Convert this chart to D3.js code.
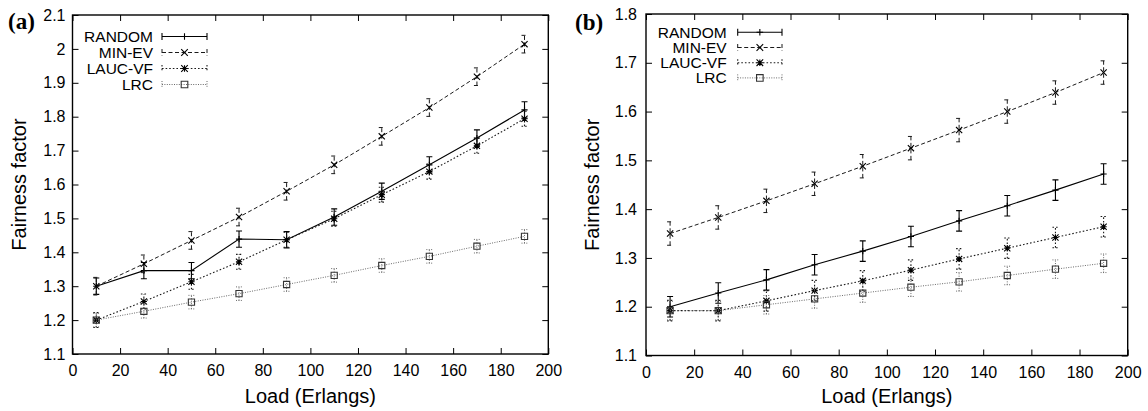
<!DOCTYPE html>
<html>
<head>
<meta charset="utf-8">
<script src="https://cdn.jsdelivr.net/npm/d3@7"></script>
<style>
  body { margin: 0; background: #fff; }
  text { font-family: "Liberation Sans", Arial, sans-serif; fill: #000; }
</style>
</head>
<body>
<script>
const width = 1148
const height = 411

// shared
const loads = [10, 30, 50, 70, 90, 110, 130, 150, 170, 190];
const xTicks = [0, 20, 40, 60, 80, 100, 120, 140, 160, 180, 200];
const seriesNames = ["RANDOM", "MIN-EV", "LAUC-VF", "LRC"];

// panel (a)
const aRandom = [1.300, 1.346, 1.346, 1.439, 1.437, 1.504, 1.580, 1.658, 1.737, 1.820];
const aMinEv  = [1.300, 1.366, 1.435, 1.504, 1.580, 1.658, 1.742, 1.827, 1.918, 2.014];
const aLaucVf = [1.200, 1.255, 1.313, 1.372, 1.437, 1.499, 1.570, 1.638, 1.714, 1.794];
const aLrc    = [1.200, 1.226, 1.253, 1.278, 1.305, 1.332, 1.361, 1.388, 1.418, 1.447];
const aErr    = [0.024, 0.026, 0.022, 0.020];
const aYTicks = [1.1, 1.2, 1.3, 1.4, 1.5, 1.6, 1.7, 1.8, 1.9, 2, 2.1];

// panel (b)
const bRandom = [1.200, 1.228, 1.255, 1.286, 1.314, 1.344, 1.376, 1.407, 1.439, 1.472];
const bMinEv  = [1.350, 1.383, 1.417, 1.452, 1.488, 1.525, 1.562, 1.600, 1.639, 1.680];
const bLaucVf = [1.192, 1.192, 1.212, 1.233, 1.253, 1.275, 1.298, 1.320, 1.342, 1.364];
const bLrc    = [1.192, 1.192, 1.204, 1.216, 1.228, 1.240, 1.251, 1.264, 1.277, 1.289];
const bErr    = [0.021, 0.024, 0.021, 0.019];
const bYTicks = [1.1, 1.2, 1.3, 1.4, 1.5, 1.6, 1.7, 1.8];

// line style + point type per series (gnuplot look)
const styles = [
    { stroke: "#000", dash: null,      width: 1.1, marker: "plus" },
    { stroke: "#1a1a1a", dash: "4,2.5", width: 1,   marker: "cross" },
    { stroke: "#1a1a1a", dash: "1.6,2", width: 1.1, marker: "star" },
    { stroke: "#6a6a6a", dash: "1,1.4", width: 1,   marker: "square" }
];

const svg = d3.select("body").append("svg")
    .attr("width", width)
    .attr("height", height);

function markerPath(type, s) {
    if (type == "plus") return `M${-s},0H${s}M0,${-s}V${s}`;
    if (type == "cross") return `M${-s},${-s}L${s},${s}M${-s},${s}L${s},${-s}`;
    if (type == "star") return `M${-s},0H${s}M0,${-s}V${s}M${-s},${-s}L${s},${s}M${-s},${s}L${s},${-s}`;
    return `M${-s},${-s}H${s}V${s}H${-s}Z`;
}

function drawPanel(p) {
    const g = svg.append("g");
    const x = d3.scaleLinear().domain([0, 200]).range([p.left, p.right]);
    const y = d3.scaleLinear().domain([p.yTicks[0], p.yTicks[p.yTicks.length - 1]]).range([p.bottom, p.top]);

    // axes, ticks pointing inward on all four sides
    const axes = [
        [d3.axisBottom(x).tickValues(xTicks).tickFormat(d3.format("d")).tickPadding(11), `translate(0,${p.bottom})`],
        [d3.axisTop(x).tickValues(xTicks).tickFormat(""), `translate(0,${p.top})`],
        [d3.axisLeft(y).tickValues(p.yTicks).tickFormat(d => d3.format("")(d)).tickPadding(p.yPad), `translate(${p.left},0)`],
        [d3.axisRight(y).tickValues(p.yTicks).tickFormat(""), `translate(${p.right},0)`]
    ];
    axes.forEach(([ax, tr]) => {
        const a = g.append("g").attr("transform", tr)
            .call(ax.tickSizeInner(-6).tickSizeOuter(0));
        a.select(".domain").remove();
        a.selectAll("line").attr("stroke", "#000").attr("stroke-width", 1);
        a.selectAll("text").style("font-size", "16px").attr("fill", "#000");
    });

    g.append("rect")
        .attr("x", p.left).attr("y", p.top)
        .attr("width", p.right - p.left).attr("height", p.bottom - p.top)
        .attr("fill", "none").attr("stroke", "#000").attr("stroke-width", 1.4);

    const line = d3.line().x((d, i) => x(loads[i])).y(d => y(d));

    p.series.forEach((vals, k) => {
        const st = styles[k];
        const sg = g.append("g")
            .attr("stroke", st.stroke)
            .attr("stroke-width", st.width)
            .attr("stroke-dasharray", st.dash)
            .attr("fill", "none");

        sg.append("path").attr("d", line(vals));

        // error bars
        const e = p.err[k];
        sg.selectAll(".eb").data(vals).enter().append("path")
            .attr("d", (d, i) => {
                const cx = x(loads[i]), y0 = y(d - e), y1 = y(d + e);
                return `M${cx},${y0}V${y1}M${cx - 3},${y0}H${cx + 3}M${cx - 3},${y1}H${cx + 3}`;
            });

        // point markers
        g.selectAll(null).data(vals).enter().append("path")
            .attr("transform", (d, i) => `translate(${x(loads[i])},${y(d)})`)
            .attr("d", markerPath(st.marker, 3.1))
            .attr("fill", "none")
            .attr("stroke", k == 3 ? "#333" : "#000")
            .attr("stroke-width", 1.1);
    });

    // legend
    seriesNames.forEach((name, k) => {
        const st = styles[k];
        const ly = p.legY + k * p.legStep;
        g.append("text")
            .attr("x", p.legText).attr("y", ly + 5.5)
            .attr("text-anchor", "end")
            .style("font-size", "15.5px")
            .text(name);
        g.append("path")
            .attr("d", `M${p.legX0},${ly}H${p.legX1}M${p.legX0},${ly - 3.5}V${ly + 3.5}M${p.legX1},${ly - 3.5}V${ly + 3.5}`)
            .attr("stroke", st.stroke)
            .attr("stroke-width", st.width)
            .attr("stroke-dasharray", st.dash)
            .attr("fill", "none");
        g.append("path")
            .attr("transform", `translate(${(p.legX0 + p.legX1) / 2},${ly})`)
            .attr("d", markerPath(st.marker, 3.3))
            .attr("fill", "none")
            .attr("stroke", k == 3 ? "#333" : "#000")
            .attr("stroke-width", 1.1);
    });

    // axis titles
    g.append("text")
        .attr("transform", `translate(${p.yTitleX},${(p.top + p.bottom) / 2}) rotate(-90)`)
        .attr("text-anchor", "middle")
        .style("font-size", "20px")
        .text("Fairness factor");
    g.append("text")
        .attr("x", (p.left + p.right) / 2).attr("y", 403)
        .attr("text-anchor", "middle")
        .style("font-size", "20px")
        .text("Load (Erlangs)");

    // panel letter
    g.append("text")
        .attr("x", p.tagX).attr("y", p.tagY)
        .style("font-family", "'Liberation Serif', 'Times New Roman', serif")
        .style("font-weight", "bold")
        .style("font-size", "23px")
        .text(p.tag);
}

drawPanel({
    tag: "(a)", tagX: 8, tagY: 29,
    left: 72.5, right: 548.3, top: 15, bottom: 354,
    yTicks: aYTicks, yPad: 7, yTitleX: 26,
    series: [aRandom, aMinEv, aLaucVf, aLrc], err: aErr,
    legText: 153, legX0: 162, legX1: 207, legY: 36.5, legStep: 16
});

drawPanel({
    tag: "(b)", tagX: 575, tagY: 30,
    left: 646, right: 1127.7, top: 14, bottom: 355.5,
    yTicks: bYTicks, yPad: 9, yTitleX: 599,
    series: [bRandom, bMinEv, bLaucVf, bLrc], err: bErr,
    legText: 726.7, legX0: 737.7, legX1: 782, legY: 32.3, legStep: 15.2
});
</script>
</body>
</html>
